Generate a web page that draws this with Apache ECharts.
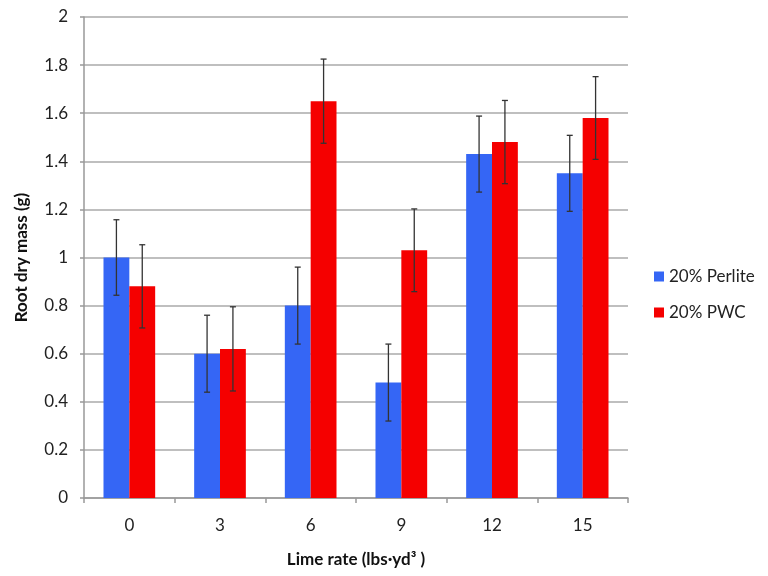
<!DOCTYPE html>
<html><head><meta charset="utf-8">
<script src="https://cdn.jsdelivr.net/npm/echarts@6/dist/echarts.min.js"></script>
<style>html,body{margin:0;padding:0;background:#fff}#c{width:768px;height:576px}</style>
</head><body><div id="c"></div>
<script>
const categories = ['0','3','6','9','12','15'];
const perlite = [1.0, 0.60, 0.80, 0.48, 1.43, 1.35];
const perliteErr = [0.157, 0.16, 0.16, 0.16, 0.158, 0.158];
const pwc = [0.88, 0.62, 1.65, 1.03, 1.48, 1.58];
const pwcErr = [0.173, 0.175, 0.175, 0.172, 0.173, 0.172];
const seriesNames = ['20% Perlite', '20% PWC'];
const yTicks = [0, 0.2, 0.4, 0.6, 0.8, 1, 1.2, 1.4, 1.6, 1.8, 2];

const GAP = 0.43;
function errSeries(vals, errs, side) {
  return {
    type: 'custom', z: 10, silent: true,
    data: vals.map((v, i) => [i, v, errs[i]]),
    renderItem: function (params, api) {
      const i = api.value(0), v = api.value(1), e = api.value(2);
      const cw = api.size([1, 0])[0];
      const bw = cw * (1 - GAP) / 2;
      const x = api.coord([i, v])[0] + side * bw / 2;
      const yt = api.coord([i, v + e])[1];
      const yb = api.coord([i, v - e])[1];
      const cap = 3;
      const st = { stroke: '#333', lineWidth: 1.3 };
      return { type: 'group', children: [
        { type: 'line', shape: { x1: x, y1: yt, x2: x, y2: yb }, style: st },
        { type: 'line', shape: { x1: x - cap, y1: yt, x2: x + cap, y2: yt }, style: st },
        { type: 'line', shape: { x1: x - cap, y1: yb, x2: x + cap, y2: yb }, style: st }
      ]};
    }
  };
}

const chart = echarts.init(document.getElementById('c'));
const font = 'Lato, "Open Sans", sans-serif';
chart.setOption({
  animation: false,
  textStyle: { fontFamily: font },
  grid: { left: 84, right: 140, top: 17, bottom: 78 },
  legend: {
    orient: 'vertical', left: 649, top: 263, itemGap: 20, itemGap: 19,
    itemWidth: 10, itemHeight: 10, icon: 'rect',
    textStyle: { fontSize: 17, color: '#222', fontFamily: font },
    data: seriesNames
  },
  xAxis: {
    type: 'category', data: categories,
    name: 'Lime rate (lbs·yd³ )', nameLocation: 'middle', nameGap: 53,
    nameTextStyle: { fontSize: 17, fontWeight: 'bold', color: '#111', fontFamily: font },
    axisLine: { lineStyle: { color: '#999', width: 1.5 } },
    axisTick: { show: true, length: 5, lineStyle: { color: '#999', width: 1.5 } },
    axisLabel: { fontSize: 17, color: '#222', margin: 19 }
  },
  yAxis: {
    type: 'value', min: 0, max: 2, interval: 0.2,
    name: 'Root dry mass (g)', nameLocation: 'middle', nameGap: 54, nameRotate: 90,
    nameTextStyle: { fontSize: 17, fontWeight: 'bold', color: '#111', fontFamily: font },
    axisLine: { show: true, lineStyle: { color: '#999', width: 1.5 } },
    axisTick: { show: true, length: 4, lineStyle: { color: '#999', width: 1.5 } },
    splitLine: { lineStyle: { color: '#aaa', width: 1.5 } },
    axisLabel: { fontSize: 17, color: '#222', margin: 16,
      formatter: v => { const t = yTicks.find(x => Math.abs(x - v) < 1e-6); return t === undefined ? '' : String(t); } }
  },
  series: [
    { name: seriesNames[0], type: 'bar', data: perlite, barGap: '0%', barCategoryGap: '43%',
      itemStyle: { color: '#3566f5' } },
    { name: seriesNames[1], type: 'bar', data: pwc, barGap: '0%', barCategoryGap: '43%',
      itemStyle: { color: '#f50000' } },
    errSeries(perlite, perliteErr, -1),
    errSeries(pwc, pwcErr, 1)
  ]
});
</script></body></html>
